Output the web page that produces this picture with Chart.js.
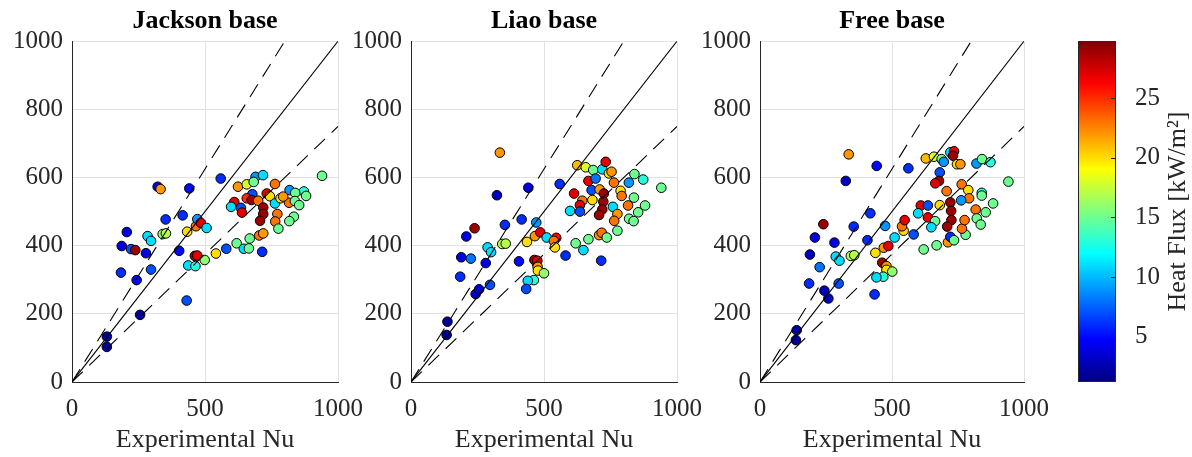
<!DOCTYPE html>
<html>
<head>
<meta charset="utf-8">
<script src="https://cdn.jsdelivr.net/npm/chart.js@4.4.1/dist/chart.umd.min.js"></script>
<style>
  html, body { margin: 0; padding: 0; background: #fff; }
  #fig { position: relative; width: 1192px; height: 457px; overflow: hidden; }
  #fig canvas { position: absolute; top: 0; }
</style>
</head>
<body>
<div id="fig">
  <canvas id="jackson" width="378" height="457" style="left:0px"></canvas>
  <canvas id="liao" width="378" height="457" style="left:339px"></canvas>
  <canvas id="free" width="376" height="457" style="left:688px"></canvas>
  <canvas id="cbar" width="152" height="457" style="left:1040px"></canvas>
</div>
<script>
// ---- data: [experimental Nu, predicted Nu, heat flux kW/m2] ----
const jacksonData = [
  [559,597,6], [322,573,4], [333,566,22], [441,568,5], [352,477,6], [416,489,6],
  [206,440,4], [284,428,11], [297,414,11], [341,434,16], [353,436,17], [187,399,4],
  [222,390,7], [238,387,29], [278,378,4], [403,385,5], [433,441,20], [466,457,23],
  [471,478,9], [484,467,27], [506,452,11], [462,370,29], [471,371,27], [437,342,11],
  [464,340,13], [499,358,16], [541,377,20], [580,391,7], [619,407,15], [646,391,11],
  [665,392,15], [668,421,15], [704,430,23], [719,436,22], [715,382,6], [184,321,6],
  [243,299,5], [297,330,7], [431,239,7], [256,197,2], [131,133,2], [131,103,2],
  [940,605,15], [690,602,9], [718,607,11], [624,573,22], [657,580,18], [683,587,15],
  [763,581,23], [678,551,7], [610,528,27], [598,514,11], [635,511,7], [639,497,27],
  [657,539,25], [675,534,29], [700,532,23], [732,553,27], [744,545,20], [763,524,11],
  [784,539,20], [719,512,29], [719,493,29], [707,473,29], [772,493,23], [764,471,23],
  [776,450,15], [818,563,9], [872,559,13], [839,555,15], [880,546,15], [816,526,23],
  [838,531,15], [854,519,15], [834,485,15], [817,472,15], [794,544,22]
];
const liaoData = [
  [334,673,22], [323,548,3], [441,570,4], [559,581,6], [239,451,29], [208,427,4],
  [353,461,6], [416,477,6], [471,468,9], [189,366,4], [225,362,8], [281,349,4],
  [288,395,11], [301,381,11], [343,405,17], [356,406,17], [185,309,6], [243,258,3],
  [256,272,4], [297,285,7], [406,354,5], [436,411,20], [466,428,22], [486,439,27],
  [510,424,11], [546,423,26], [537,414,23], [541,395,20], [464,358,29], [475,356,27],
  [476,338,22], [477,327,20], [500,319,16], [462,299,13], [439,297,11], [433,273,7],
  [581,371,6], [619,407,15], [648,387,11], [667,419,15], [707,431,22], [717,438,23],
  [736,424,15], [715,356,6], [776,444,15], [137,177,2], [134,138,2],
  [625,636,21], [657,630,18], [685,622,15], [719,624,11], [732,646,27], [744,612,20],
  [754,617,22], [667,590,27], [694,597,8], [763,585,23], [819,585,9], [840,610,15],
  [873,594,13], [941,570,15], [613,553,27], [679,563,7], [709,565,22], [644,532,23],
  [635,519,27], [682,534,20], [725,553,29], [723,529,29], [719,506,29], [707,490,29],
  [788,561,20], [792,546,23], [759,514,11], [776,493,22], [764,473,23], [816,518,23],
  [838,541,15], [880,518,15], [854,498,15], [820,479,15], [837,472,15], [598,502,11],
  [635,500,7]
];
const freeData = [
  [336,668,22], [442,634,5], [562,627,6], [325,590,3], [240,463,29], [208,424,4],
  [282,409,4], [355,456,6], [418,495,6], [407,416,6], [474,458,9], [189,374,3],
  [226,337,8], [287,368,11], [301,356,11], [344,370,17], [357,372,17], [186,289,6],
  [244,268,3], [259,245,3], [298,289,7], [434,257,6], [437,379,20], [469,394,22],
  [486,399,27], [510,424,11], [544,444,20], [538,457,23], [548,475,27], [582,433,7],
  [463,350,29], [479,340,22], [479,329,20], [501,324,16], [467,309,13], [441,307,11],
  [139,152,2], [136,123,2], [620,389,15], [669,401,15], [712,410,22], [721,426,6],
  [735,416,15], [779,432,15], [765,450,23],
  [628,656,21], [659,661,18], [688,654,15], [696,646,9], [721,674,11], [735,677,27],
  [731,664,29], [746,639,20], [759,639,22], [681,615,7], [678,590,29], [664,583,27],
  [820,641,9], [841,654,15], [873,645,13], [941,588,15], [707,560,23], [764,580,23],
  [789,563,20], [840,555,13], [840,547,15], [792,539,23], [762,533,9], [883,524,15],
  [817,506,23], [855,498,15], [821,480,15], [836,462,15], [775,475,23], [721,527,29],
  [724,502,29], [725,475,29], [709,456,29], [609,518,27], [636,518,7], [681,519,20],
  [599,495,11], [636,483,27], [663,472,15], [649,454,11]
];

const panelTitles = ['Jackson base', 'Liao base', 'Free base'];
const xTicks = [0, 500, 1000];
const yTicks = [0, 200, 400, 600, 800, 1000];
const refFactors = [1, 1.25, 0.75];      // y = k*x, solid then +/-25 %
const heatFluxLimits = [1.2, 29.8];
const cbTicks = [5, 10, 15, 20, 25];

const INK = '#262626';
const GRID = '#e2e2e2';
const SERIF = '"Liberation Serif", "Times New Roman", serif';
Chart.defaults.font.family = SERIF;
Chart.defaults.color = INK;

// matlab-ish jet colormap
function jet(q) {
  let t = (q - heatFluxLimits[0]) / (heatFluxLimits[1] - heatFluxLimits[0]);
  t = Math.max(0, Math.min(1, t));
  const c = v => Math.round(255 * Math.max(0, Math.min(1, v)));
  return 'rgb(' + c(1.5 - Math.abs(4 * t - 3)) + ',' + c(1.5 - Math.abs(4 * t - 2)) + ',' + c(1.5 - Math.abs(4 * t - 1)) + ')';
}

const plainTick = v => String(v);

function makePanel(id, title, pts) {
  const axMax = xTicks[xTicks.length - 1];
  const refSets = refFactors.map(k => {
    const xEnd = Math.min(axMax, axMax / k);
    return {
      data: [{ x: 0, y: 0 }, { x: xEnd, y: k * xEnd }],
      showLine: true, borderColor: '#000', borderWidth: 1.1,
      borderDash: k === 1 ? [] : [15, 9],
      pointRadius: 0
    };
  });

  new Chart(document.getElementById(id), {
    type: 'scatter',
    data: {
      datasets: [...refSets, {
        data: pts.map(p => ({ x: p[0], y: p[1] })),
        pointRadius: 4.8,
        pointBorderWidth: 1,
        pointBorderColor: '#000',
        pointBackgroundColor: pts.map(p => jet(p[2]))
      }]
    },
    options: {
      responsive: false, animation: false,
      layout: { padding: { left: 0, right: 40, top: 0, bottom: 0 } },
      plugins: {
        legend: { display: false }, tooltip: { enabled: false },
        title: {
          display: true, text: title, fullSize: false, color: '#000',
          font: { size: 26, weight: 'bold', lineHeight: 1.2 },
          padding: { top: 6, bottom: 4 }
        }
      },
      scales: {
        x: {
          type: 'linear', min: xTicks[0], max: axMax,
          afterBuildTicks: s => { s.ticks = xTicks.map(v => ({ value: v })); },
          afterFit: s => { s.height = 75; s.paddingLeft = 0; s.paddingRight = 0; },
          ticks: { font: { size: 25 }, padding: 12, maxRotation: 0, callback: plainTick },
          grid: { color: GRID, drawTicks: false },
          border: { color: INK, width: 1 },
          title: { display: true, text: 'Experimental Nu', font: { size: 26, lineHeight: 1.2 }, padding: { top: 0, bottom: 1 } }
        },
        y: {
          min: yTicks[0], max: yTicks[yTicks.length - 1],
          afterBuildTicks: s => { s.ticks = yTicks.map(v => ({ value: v })); },
          afterFit: s => { s.width = 72; },
          ticks: { font: { size: 25 }, padding: 9, callback: plainTick },
          grid: { color: GRID, drawTicks: false },
          border: { color: INK, width: 1 }
        }
      }
    }
  });
}

makePanel('jackson', panelTitles[0], jacksonData);
makePanel('liao', panelTitles[1], liaoData);
makePanel('free', panelTitles[2], freeData);

// ---- colorbar ----
const colorbarPlugin = {
  id: 'colorbar',
  beforeDatasetsDraw(chart) {
    const { ctx, chartArea: a, scales: { y } } = chart;
    for (let py = Math.floor(a.top); py < a.bottom; py++) {
      ctx.fillStyle = jet(y.getValueForPixel(py + 0.5));
      ctx.fillRect(a.left, py, a.right - a.left, 1);
    }
  },
  afterDraw(chart) {
    const { ctx, chartArea: a, scales: { y } } = chart;
    ctx.save();
    ctx.strokeStyle = INK;
    ctx.lineWidth = 1;
    ctx.strokeRect(a.left + 0.5, a.top + 0.5, a.right - a.left - 1, a.bottom - a.top - 1);
    y.ticks.forEach(t => {
      const py = Math.round(y.getPixelForValue(t.value)) + 0.5;
      ctx.beginPath();
      ctx.moveTo(a.right - 5, py);
      ctx.lineTo(a.right, py);
      ctx.stroke();
    });
    ctx.translate(138, (a.top + a.bottom) / 2);
    ctx.rotate(-Math.PI / 2);
    ctx.fillStyle = INK;
    ctx.font = '26px ' + SERIF;
    ctx.textAlign = 'center';
    ctx.textBaseline = 'middle';
    ctx.fillText('Heat Flux [kW/m²]', 0, 0);
    ctx.restore();
  }
};

new Chart(document.getElementById('cbar'), {
  type: 'scatter',
  data: { datasets: [{ data: [] }] },
  options: {
    responsive: false, animation: false,
    layout: { padding: { left: 38, right: 0, top: 41, bottom: 75 } },
    plugins: { legend: { display: false }, tooltip: { enabled: false } },
    scales: {
      x: { display: false, min: 0, max: 1 },
      y: {
        position: 'right',
        min: heatFluxLimits[0], max: heatFluxLimits[1],
        afterBuildTicks: s => { s.ticks = cbTicks.map(v => ({ value: v })); },
        afterFit: s => { s.width = 76; s.paddingTop = 0; s.paddingBottom = 0; },
        ticks: { font: { size: 25 }, padding: 11, callback: plainTick },
        grid: { display: false },
        border: { display: false }
      }
    }
  },
  plugins: [colorbarPlugin]
});
</script>
</body>
</html>
